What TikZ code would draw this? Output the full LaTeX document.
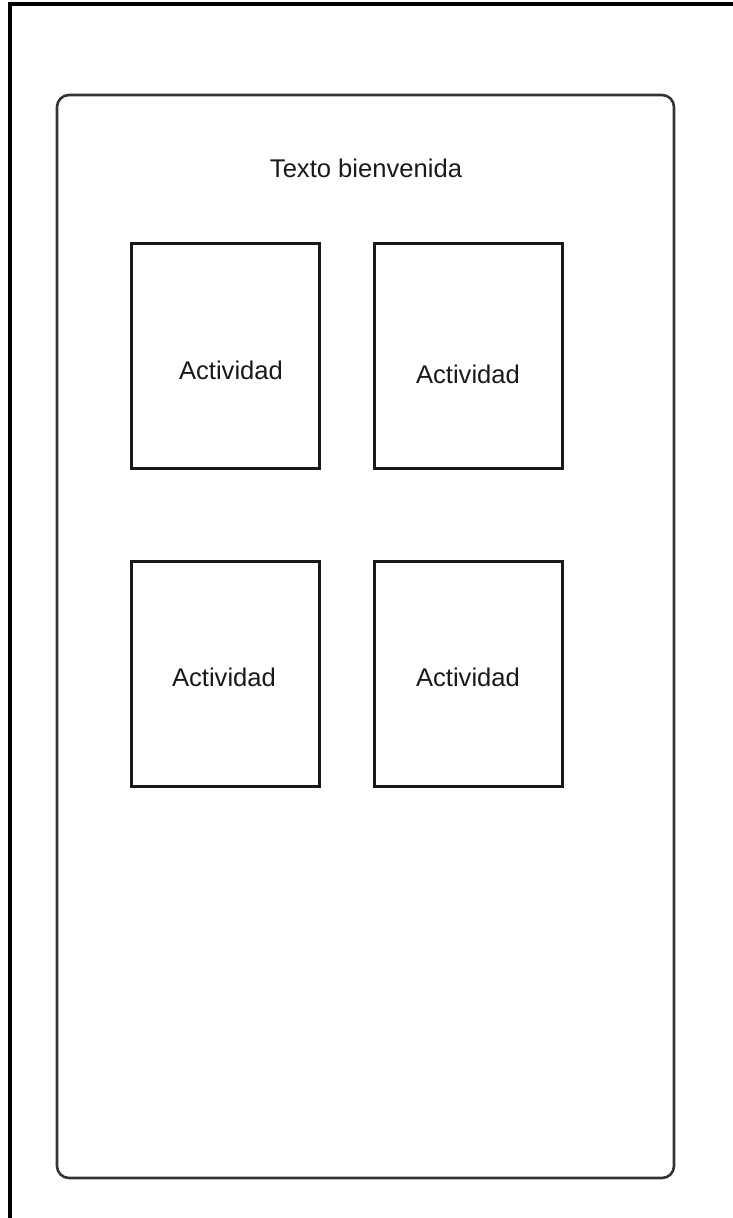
\documentclass[tikz,border=0pt]{standalone}
\usepackage{fontspec}
\setmainfont{Liberation Sans}
\begin{document}
\begin{tikzpicture}[x=1pt,y=-1pt,
  frame/.style={line width=4pt,black},
  screen/.style={draw=black!80,line width=2.6pt,rounded corners=12pt},
  actbox/.style={draw=black!90,line width=3pt,minimum width=188pt,minimum height=225pt,inner sep=0pt},
  lbl/.style={font=\fontsize{25.6}{30}\selectfont,text=black!90}]
\useasboundingbox (0,0) rectangle (733,1218);
\draw[frame] (9.5,1220) -- (9.5,3.5) -- (735,3.5);
\draw[screen] (57,95) rectangle (674,1178);
\node[lbl] (title) at (366,168) {Texto bienvenida};
\node[actbox] (a1) at (225,355.5) {};
\node[actbox] (a2) at (468.5,355.5) {};
\node[actbox] (a3) at (225,674) {};
\node[actbox] (a4) at (468.5,674) {};
\node[lbl] (t1) at (231,370) {Actividad};
\node[lbl] (t2) at (468,374) {Actividad};
\node[lbl] (t3) at (224,677) {Actividad};
\node[lbl] (t4) at (468,677) {Actividad};
\end{tikzpicture}
\end{document}
